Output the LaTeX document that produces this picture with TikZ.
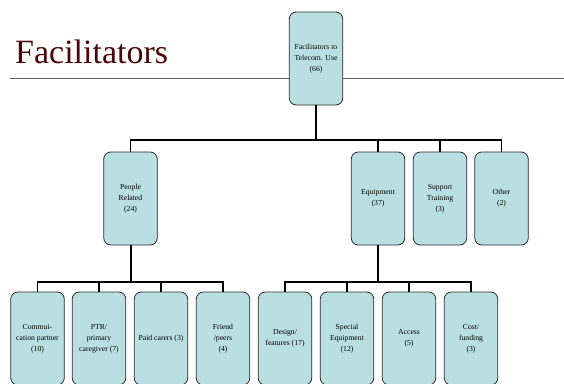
\documentclass[tikz,border=0pt]{standalone}
\usepackage{fontspec}
\setmainfont{Liberation Serif}
\definecolor{boxfill}{HTML}{BADFE3}
\definecolor{boxline}{HTML}{2A2A2A}
\definecolor{titlered}{HTML}{4A0505}
\definecolor{rulegray}{HTML}{606060}
\begin{document}
\begin{tikzpicture}[x=1pt,y=1pt,
  box/.style={draw=boxline, line width=0.8pt, fill=boxfill, rounded corners=7pt,
    minimum width=53.5pt, minimum height=93pt, inner sep=1pt, align=center,
    font=\fontsize{7.7}{10.8}\selectfont},
  conn/.style={line width=1.2pt, black},
  trunk/.style={line width=2pt, black}]
\useasboundingbox (0,0) rectangle (564,-383);
\node[anchor=base west, text=titlered, font=\fontsize{34}{38}\selectfont, inner sep=0pt] (title) at (15,-63) {Facilitators};
\draw[rulegray, line width=1pt] (10,-78) -- (564,-78);
% level 1
\node[box] (top) at (316,-58.5) {Facilitators to\\Telecom. Use\\(66)};
% level 2
\node[box] (pr) at (130.5,-198.5) {People\\Related\\(24)};
\node[box] (eq) at (378,-198.5) {Equipment\\(37)};
\node[box] (st) at (440,-198.5) {Support\\Training\\(3)};
\node[box] (ot) at (501.5,-198.5) {Other\\(2)};
% level 3
\node[box] (c1) at (37.5,-338.5) {Commui-\\cation partner\\(10)};
\node[box] (c2) at (99,-338.5) {PTR/\\primary\\caregiver (7)};
\node[box] (c3) at (161,-338.5) {Paid carers (3)};
\node[box] (c4) at (223,-338.5) {Friend\\/peers\\(4)};
\node[box] (c5) at (285,-338.5) {Design/\\features (17)};
\node[box] (c6) at (347,-338.5) {Special\\Equipment\\(12)};
\node[box] (c7) at (409,-338.5) {Access\\(5)};
\node[box] (c8) at (471,-338.5) {Cost/\\funding\\(3)};
% connectors level 1 -> 2
\coordinate (b1) at (316,-140);
\draw[trunk] (top.south) -- (b1);
\draw[conn] (b1) -| (pr.north);
\draw[conn] (b1) -| (eq.north);
\draw[conn] (b1) -| (st.north);
\draw[conn] (b1) -| (ot.north);
% connectors level 2 -> 3
\coordinate (b2) at (130.5,-282);
\draw[trunk] (pr.south) -- (b2);
\foreach \n in {c1,c2,c3,c4} \draw[conn] (b2) -| (\n.north);
\coordinate (b3) at (378,-282);
\draw[trunk] (eq.south) -- (b3);
\foreach \n in {c5,c6,c7,c8} \draw[conn] (b3) -| (\n.north);
\end{tikzpicture}
\end{document}
